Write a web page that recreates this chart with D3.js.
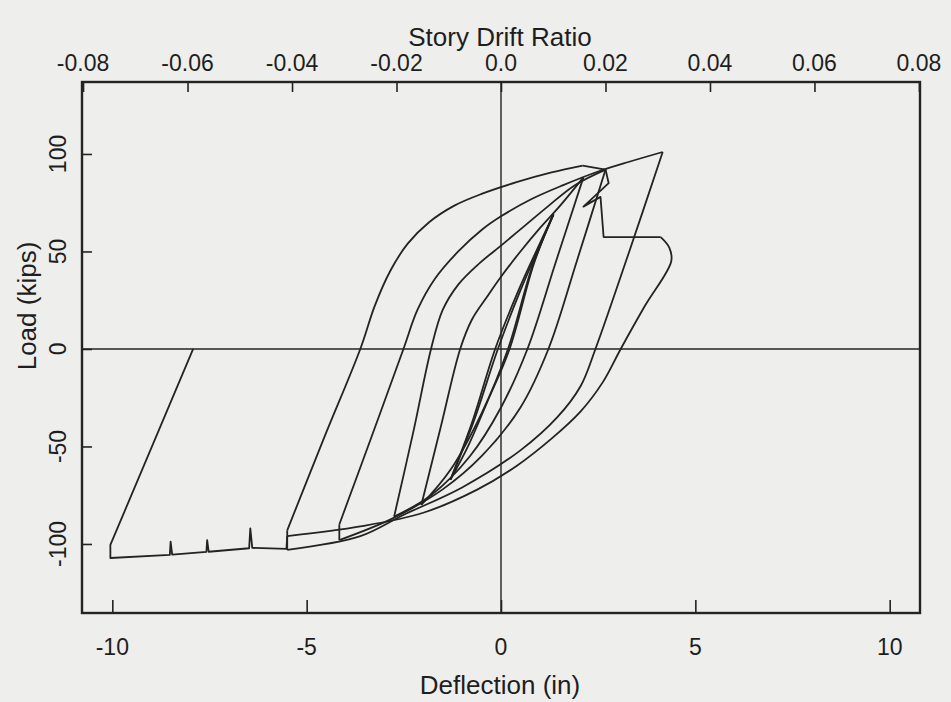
<!DOCTYPE html>
<html>
<head>
<meta charset="utf-8">
<script src="https://cdnjs.cloudflare.com/ajax/libs/d3/7.8.5/d3.min.js"></script>
<style>
  html, body { margin: 0; padding: 0; background: #eeeeec; }
  svg { display: block; }
  text { font-family: "Liberation Sans", Arial, Helvetica, sans-serif; fill: #1e1e1e; }
</style>
</head>
<body>
<div id="plot"></div>
<script>
// axis ticks
var deflTicks = [-10, -5, 0, 5, 10];
var loadTicks = [-100, -50, 0, 50, 100];
var driftTicks = [-0.08, -0.06, -0.04, -0.02, 0, 0.02, 0.04, 0.06, 0.08];

// hysteresis branches, [deflection (in), load (kips)], in test order
var innerUpA   = [[-1.30, -67], [-0.75, -38], [-0.15, 0], [0.45, 30], [0.95, 52], [1.35, 69]];
var innerDownA = [[1.35, 69], [0.85, 44], [0.22, 0], [-0.35, -27], [-0.85, -50], [-1.30, -67]];
var innerUpB   = [[-1.30, -67], [-0.70, -37], [-0.08, 0], [0.50, 30], [1.00, 53], [1.35, 69]];
var unload1    = [[1.35, 69], [0.80, 42], [0.18, 0], [-0.50, -33], [-1.30, -62], [-2.05, -80]];
var load2      = [[-2.05, -80], [-1.55, -40], [-1.05, 0], [-0.75, 15], [-0.35, 27], [0, 37], [0.50, 50], [1.00, 62], [1.50, 73], [2.12, 88]];
var unload2    = [[2.12, 88], [1.40, 44], [0.68, 0], [0, -30], [-0.80, -55], [-1.80, -75], [-2.75, -86]];
var load3      = [[-2.75, -86], [-2.25, -42], [-1.80, 0], [-1.50, 20], [-1.10, 33], [-0.55, 44], [0, 53], [0.60, 63], [1.20, 73], [1.90, 84], [2.69, 92]];
var unload3    = [[2.69, 92], [1.95, 45], [1.22, 0], [0.50, -30], [-0.50, -55], [-1.50, -72], [-2.80, -87], [-4.16, -98]];
var drop4      = [[-4.16, -98], [-4.16, -90]];
var load4      = [[-4.16, -90], [-3.33, -45], [-2.51, 0], [-2.15, 20], [-1.70, 36], [-1.10, 50], [-0.50, 61], [0, 68], [0.80, 77], [1.60, 84], [2.50, 91], [3.30, 96], [4.16, 101]];
var unload4    = [[4.16, 101], [3.30, 50], [2.43, 0], [2.05, -19], [1.45, -35], [0.50, -52], [-1.00, -71], [-2.50, -85], [-3.62, -96], [-5.50, -103]];
var drop5      = [[-5.50, -103], [-5.50, -93]];
var load5      = [[-5.50, -93], [-4.56, -46], [-3.62, 0], [-3.25, 22], [-2.85, 40], [-2.40, 54], [-1.85, 65], [-1.20, 73.5], [-0.50, 79.5], [0.40, 85.5], [1.30, 90.5], [2.10, 94]];
var degrade    = [[2.10, 94], [2.69, 92], [2.77, 85], [2.12, 73], [2.56, 78], [2.64, 57.4], [4.11, 57.4]];
var unloadLast = [[4.11, 57.4], [4.33, 52], [4.38, 45], [3.70, 22], [3.08, 0], [2.62, -17], [2.05, -32], [1.30, -46], [0.40, -60], [-0.60, -72], [-2.00, -84], [-3.62, -91], [-5.50, -96]];
var envelope   = [[-5.50, -96], [-5.52, -102.5], [-6.40, -102], [-6.45, -92], [-6.48, -102.2],
                  [-7.52, -104], [-7.56, -98], [-7.58, -104.1], [-8.46, -105.5], [-8.50, -98.8],
                  [-8.52, -105.6], [-10.05, -107.2], [-10.05, -100.5], [-7.92, 0]];

var smoothBranches = [innerUpA, innerDownA, innerUpB, unload1, load2, unload2, load3, unload3,
                      load4, unload4, load5, unloadLast];
var straightBranches = [drop4, drop5, degrade, envelope];

var svgWidth = 951;
var svgHeight = 702;
var margin = {top: 82, right: 31, bottom: 89, left: 82};
var width = svgWidth - margin.left - margin.right;
var height = svgHeight - margin.top - margin.bottom;

var svg = d3.select("#plot")
  .append("svg")
  .attr("width", svgWidth)
  .attr("height", svgHeight);

svg.append("rect")
  .attr("width", svgWidth)
  .attr("height", svgHeight)
  .attr("fill", "#eeeeec");

var chartGroup = svg.append("g")
  .attr("transform", `translate(${margin.left}, ${margin.top})`);

var xScale = d3.scaleLinear().domain([-10.78, 10.78]).range([0, width]);
var yScale = d3.scaleLinear().domain([-135.4, 136.9]).range([height, 0]);
// drift ratio = deflection / story height
var xTopScale = d3.scaleLinear().domain([-0.0802, 0.0802]).range([0, width]);

var ink = "#232323";

// axes: ticks point inward
var bottomAxis = d3.axisTop(xScale).tickValues(deflTicks).tickSize(13).tickFormat("");
var leftAxis = d3.axisRight(yScale).tickValues(loadTicks).tickSize(10).tickFormat("");
var topAxis = d3.axisBottom(xTopScale).tickValues(driftTicks).tickSize(10).tickFormat("");

chartGroup.append("g").attr("transform", `translate(0, ${height})`).call(bottomAxis);
chartGroup.append("g").call(leftAxis);
chartGroup.append("g").call(topAxis);
chartGroup.selectAll(".domain").remove();
chartGroup.selectAll(".tick line").attr("stroke", ink).attr("stroke-width", 1.6);

// zero lines
chartGroup.append("line")
  .attr("x1", 0).attr("x2", width)
  .attr("y1", yScale(0)).attr("y2", yScale(0))
  .attr("stroke", ink).attr("stroke-width", 1.6);
chartGroup.append("line")
  .attr("x1", xScale(0)).attr("x2", xScale(0))
  .attr("y1", 0).attr("y2", height)
  .attr("stroke", ink).attr("stroke-width", 1.4);

// frame
chartGroup.append("rect")
  .attr("width", width).attr("height", height)
  .attr("fill", "none").attr("stroke", ink).attr("stroke-width", 2.4);

// tick labels
chartGroup.selectAll(".xlab")
  .data(deflTicks).enter().append("text")
  .attr("x", d => xScale(d)).attr("y", height + 42)
  .attr("text-anchor", "middle").attr("font-size", "23px")
  .text(d => String(d));

chartGroup.selectAll(".toplab")
  .data(driftTicks).enter().append("text")
  .attr("x", d => xTopScale(d)).attr("y", -11)
  .attr("text-anchor", "middle").attr("font-size", "23px")
  .text(d => d === 0 ? "0.0" : d.toFixed(2));

chartGroup.selectAll(".ylab")
  .data(loadTicks).enter().append("text")
  .attr("transform", d => `translate(-16, ${yScale(d)}) rotate(-90)`)
  .attr("text-anchor", "middle").attr("font-size", "23px")
  .text(d => String(d));

// axis titles
svg.append("text")
  .attr("x", 500).attr("y", 46)
  .attr("text-anchor", "middle").attr("font-size", "26px")
  .text("Story Drift Ratio");
svg.append("text")
  .attr("x", 500).attr("y", 694)
  .attr("text-anchor", "middle").attr("font-size", "26px")
  .text("Deflection (in)");
svg.append("text")
  .attr("transform", "translate(36, 306) rotate(-90)")
  .attr("text-anchor", "middle").attr("font-size", "26px")
  .text("Load (kips)");

// hysteresis curve
var smoothLine = d3.line()
  .x(d => xScale(d[0]))
  .y(d => yScale(d[1]))
  .curve(d3.curveCatmullRom.alpha(0.5));
var straightLine = d3.line()
  .x(d => xScale(d[0]))
  .y(d => yScale(d[1]));

chartGroup.selectAll(".smooth")
  .data(smoothBranches).enter().append("path")
  .attr("d", smoothLine)
  .attr("fill", "none").attr("stroke", ink).attr("stroke-width", 1.8)
  .attr("stroke-linejoin", "round");
chartGroup.selectAll(".straight")
  .data(straightBranches).enter().append("path")
  .attr("d", straightLine)
  .attr("fill", "none").attr("stroke", ink).attr("stroke-width", 1.8)
  .attr("stroke-linejoin", "round");
</script>
</body>
</html>
